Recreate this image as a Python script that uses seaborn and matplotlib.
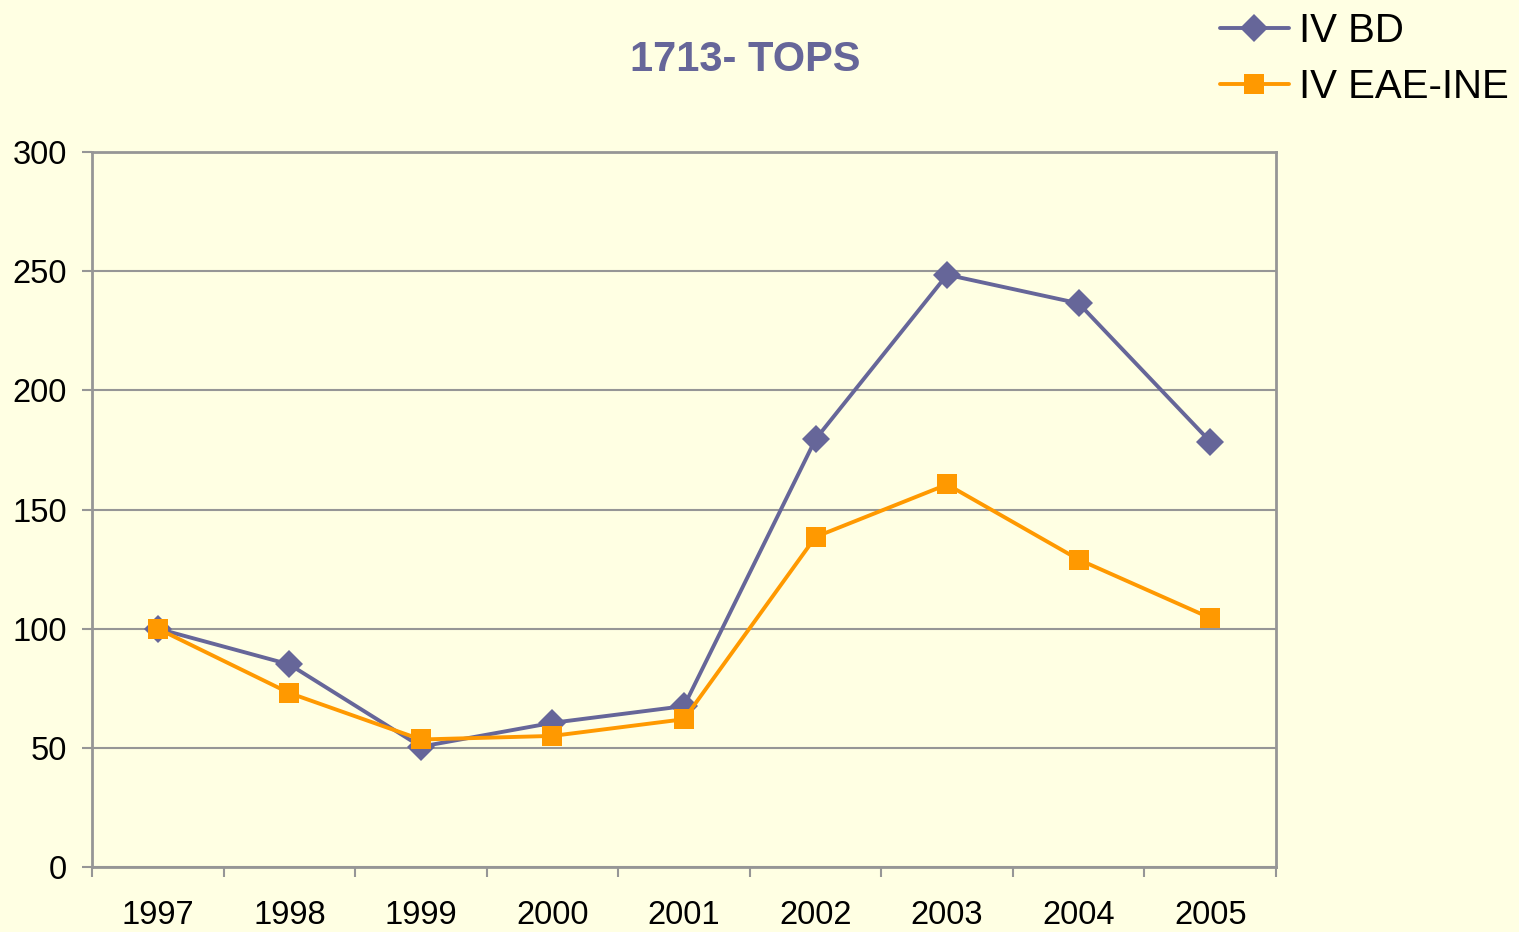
import numpy as np
import pandas as pd
import matplotlib
matplotlib.use("Agg")
import matplotlib.pyplot as plt
import seaborn as sns

# data
years = ["1997", "1998", "1999", "2000", "2001", "2002", "2003", "2004", "2005"]
iv_bd = [100, 85, 50.5, 60.5, 67.5, 179.5, 248.5, 236.5, 178.5]
iv_eae = [100, 73, 53.5, 55, 62, 138.5, 160.5, 129, 104.5]
series_names = ["IV BD", "IV EAE-INE"]

bg = "#FFFFE3"
grid_col = "#969696"
purple = "#666699"
orange = "#FF9900"

sns.set_theme(style="white")
plt.rcParams["font.family"] = ["Liberation Sans", "DejaVu Sans"]
plt.rcParams["text.color"] = "black"

df = pd.DataFrame({
    "year": years * 2,
    "value": iv_bd + iv_eae,
    "series": [series_names[0]] * len(years) + [series_names[1]] * len(years),
})

fig = plt.figure(figsize=(15.19, 9.32), dpi=100, facecolor=bg)
ax = fig.add_axes([92 / 1519, 65 / 932, (1276 - 92) / 1519, (867 - 152) / 932])
ax.set_facecolor(bg)

sns.lineplot(data=df, x="year", y="value", hue="series", style="series",
             palette=[purple, orange], markers=["D", "s"], dashes=False,
             linewidth=2.8, markersize=14.5, markeredgewidth=0, ax=ax, sort=False)

ax.set_xlim(-0.5, len(years) - 0.5)
ax.set_ylim(0, 300)
ax.set_yticks([0, 50, 100, 150, 200, 250, 300])
ax.set_xticks(range(len(years)))
ax.set_xticklabels(years)
ax.set_xticks(np.arange(-0.5, len(years), 1.0), minor=True)
ax.yaxis.grid(True, color=grid_col, linewidth=1.5)
ax.set_axisbelow(True)
ax.set_xlabel("")
ax.set_ylabel("")

for s in ax.spines.values():
    s.set_color(grid_col)
    s.set_linewidth(2)

ax.tick_params(axis="y", which="major", length=7, width=1.5, color=grid_col,
               labelsize=23.5, pad=11, left=True)
ax.tick_params(axis="x", which="major", length=0, labelsize=23.5, pad=24)
ax.tick_params(axis="x", which="minor", length=7, width=1.5, color=grid_col,
               bottom=True)
for lab in ax.get_xticklabels() + ax.get_yticklabels():
    lab.set_color("black")

fig.text(745 / 1519, 1 - 60 / 932, "1713- TOPS", ha="center", va="center",
         fontsize=30, fontweight="bold", color=purple)

handles, labels = ax.get_legend_handles_labels()
leg = ax.legend(handles, labels, loc="upper left",
                bbox_to_anchor=(1192 / 1519, 1 + 16 / 932),
                bbox_transform=fig.transFigure, frameon=False, fontsize=29,
                handlelength=1.7, handletextpad=0.25, labelspacing=0.45,
                borderpad=0.2)
for t in leg.get_texts():
    t.set_color("black")

fig.savefig("out.png", dpi=100, facecolor=bg)
